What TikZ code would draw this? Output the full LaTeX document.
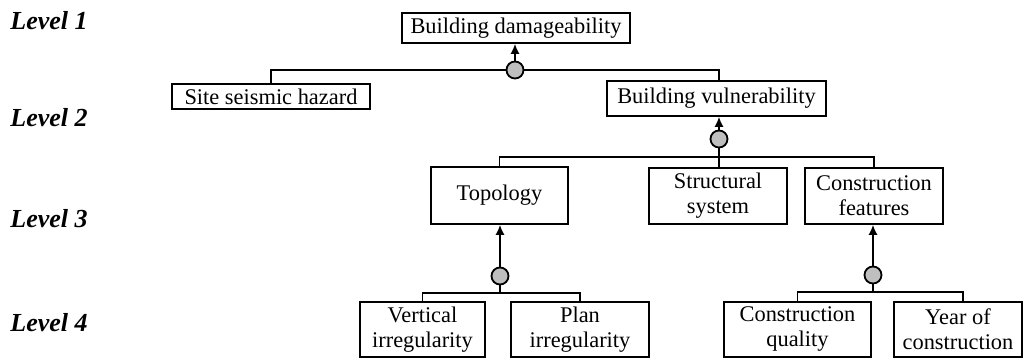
\documentclass[tikz,border=0pt]{standalone}
\usepackage{fontspec}
\setmainfont{Liberation Serif}
\usetikzlibrary{arrows.meta}
\tikzset{
  box/.style={draw, line width=0.9pt, inner sep=0pt, align=center,
    font=\fontsize{11.2}{12.5}\selectfont, minimum height=#1},
  lvl/.style={anchor=west, inner sep=0pt, font=\fontsize{13}{14}\selectfont\bfseries\itshape},
  junc/.style={circle, draw, line width=0.9pt, fill=black!25, minimum size=8.5pt, inner sep=0pt},
  conn/.style={line width=0.85pt},
  arr/.style={line width=0.85pt, -{Latex[length=5pt,width=4.6pt]}}
}
\begin{document}
\begin{tikzpicture}[x=0.5pt,y=-0.5pt]
\useasboundingbox (0,0) rectangle (1024,363);
% level labels
\node[lvl] (l1) at (10,21) {Level 1};
\node[lvl] (l2) at (10,117.5) {Level 2};
\node[lvl] (l3) at (10,219) {Level 3};
\node[lvl] (l4) at (10,322.5) {Level 4};
% boxes
\node[box=15pt, minimum width=114pt] (dam) at (516,28) {Building damageability};
\node[box=12.5pt, minimum width=99pt] (site) at (271,96.5) {Site seismic hazard};
\node[box=17.5pt, minimum width=109.5pt] (vul) at (716.5,98.5) {Building vulnerability};
\node[box=28.5pt, minimum width=68.5pt] (top) at (499.5,195.5) {Topology};
\node[box=28pt, minimum width=69pt] (str) at (718,196) {Structural\\system};
\node[box=28pt, minimum width=69pt] (cf) at (874,196) {Construction\\features};
\node[box=27.5pt, minimum width=62.5pt] (vi) at (422.5,329.5) {Vertical\\irregularity};
\node[box=27.5pt, minimum width=69pt] (pi) at (580,329.5) {Plan\\irregularity};
\node[box=27.5pt, minimum width=73.5pt] (cq) at (797.5,329.5) {Construction\\quality};
\node[box=27.5pt, minimum width=64pt] (yc) at (958,329.5) {Year of\\construction};
% junctions
\node[junc] (c1) at (515,70) {};
\node[junc] (c2) at (719,139) {};
\node[junc] (c3) at (500,276) {};
\node[junc] (c4) at (873,275) {};
\coordinate (j3) at (719,157);
\coordinate (j4) at (500,293);
\coordinate (j5) at (873,292);
\coordinate (ytop) at (963,302);
% connectors level 1-2
\draw[arr] (c1.north) -- (dam.south -| c1);
\draw[conn] (site.north) |- (c1.west);
\draw[conn] (c1.east) -| (vul.north -| c2);
% level 2-3
\draw[arr] (c2.north) -- (vul.south -| c2);
\draw[conn] (c2.south) -- (str.north -| c2);
\draw[conn] (top.north) |- (j3) -| (cf.north);
% level 3-4 left
\draw[arr] (c3.north) -- (top.south -| c3);
\draw[conn] (c3.south) -- (j4);
\draw[conn] (vi.north) |- (j4) -| (pi.north);
% level 3-4 right
\draw[arr] (c4.north) -- (cf.south -| c4);
\draw[conn] (c4.south) -- (j5);
\draw[conn] (cq.north) |- (j5) -| (ytop);
\end{tikzpicture}
\end{document}
